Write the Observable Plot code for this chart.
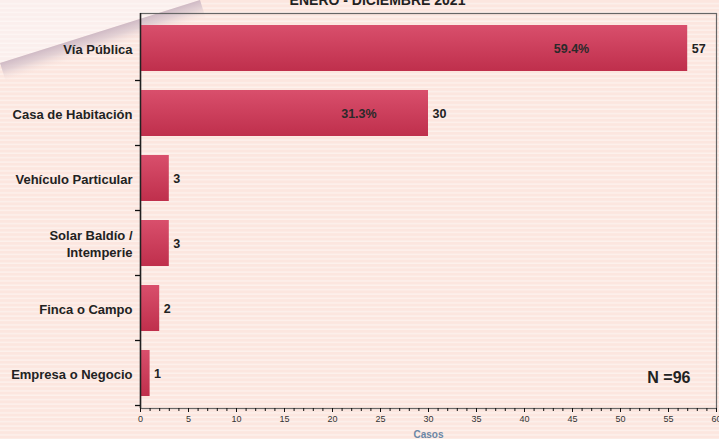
<!DOCTYPE html>
<html><head><meta charset="utf-8">
<script src="https://cdn.jsdelivr.net/npm/d3@7"></script>
<script src="https://cdn.jsdelivr.net/npm/@observablehq/plot@0.6"></script>
<style>
html,body{margin:0;padding:0;background:#fce7e0;overflow:hidden;}
svg{display:block;font-family:"Liberation Sans",Arial,sans-serif;}
</style></head>
<body><div id="chart"></div>
<script>
const categories = ["Vía Pública","Casa de Habitación","Vehículo Particular","Solar Baldío /\nIntemperie","Finca o Campo","Empresa o Negocio"];
const casos = [57, 30, 3, 3, 2, 1];
const porcentajes = [59.4, 31.3, null, null, null, null];
const xTicks = d3.range(0, 61, 5);
const xMinorTicks = d3.range(0, 61, 1);
const titulo = "ENERO - DICIEMBRE 2021";
const totalLabel = "N =96";
const xLabel = "Casos";

const data = categories.map((c, i) => ({cat: c, value: casos[i], pct: porcentajes[i]}));

const defs = () => {
  const g = d3.create("svg:g");
  const d = g.append("defs");
  const stripes = d.append("pattern").attr("id","stripes").attr("patternUnits","userSpaceOnUse").attr("width",10).attr("height",4.4);
  stripes.append("rect").attr("width",10).attr("height",4.4).attr("fill","#fce6df");
  stripes.append("rect").attr("y",2.9).attr("width",10).attr("height",1.5).attr("fill","#fdf1ec");
  const stripes2 = d.append("pattern").attr("id","stripes2").attr("patternUnits","userSpaceOnUse").attr("width",10).attr("height",4.4);
  stripes2.append("rect").attr("width",10).attr("height",4.4).attr("fill","#fbefed");
  stripes2.append("rect").attr("y",2.9).attr("width",10).attr("height",1.5).attr("fill","#fdf6f4");
  const bar = d.append("linearGradient").attr("id","barGrad").attr("x1",0).attr("y1",0).attr("x2",0).attr("y2",1);
  bar.append("stop").attr("offset","0%").attr("stop-color","#d94f6c");
  bar.append("stop").attr("offset","100%").attr("stop-color","#bf2f4c");
  const sh = d.append("linearGradient").attr("id","shadow").attr("gradientUnits","userSpaceOnUse")
    .attr("x1",100).attr("y1",31.5).attr("x2",106).attr("y2",50.6);
  sh.append("stop").attr("offset","0%").attr("stop-color","#cfbac5").attr("stop-opacity",1);
  sh.append("stop").attr("offset","40%").attr("stop-color","#dccad0").attr("stop-opacity",0.8);
  sh.append("stop").attr("offset","100%").attr("stop-color","#fce6df").attr("stop-opacity",0);
  g.append("rect").attr("width",719).attr("height",439).attr("fill","url(#stripes)");
  g.append("path").attr("d","M0,0H200L0,63Z").attr("fill","url(#stripes2)");
  g.append("path").attr("d","M0,63L200,0L206,19.1L6,82.1Z").attr("fill","url(#shadow)");
  return g.node();
};

const plot = Plot.plot({
  width: 719,
  height: 439,
  marginLeft: 140,
  marginRight: 3,
  marginTop: 13,
  marginBottom: 31,
  style: {background: "transparent", fontFamily: "Liberation Sans, Arial, sans-serif"},
  x: {domain: [0, 60]},
  y: {domain: categories, paddingInner: 0.29, paddingOuter: 0.14, align: 0.5},
  marks: [
    defs,
    Plot.frame({stroke: "#666", strokeWidth: 1.2}),
    Plot.barX(data, {x: "value", y: "cat", fill: "url(#barGrad)"}),
    Plot.text(data.filter(d => d.pct != null), {x: d => d.value * 0.82, y: "cat", text: d => d.pct.toFixed(1) + "%", textAnchor: "end", fontWeight: "bold", fontSize: 12.5, fill: "#2a2a2a"}),
    Plot.text(data, {x: "value", y: "cat", text: d => String(d.value), textAnchor: "start", dx: 4, fontWeight: "bold", fontSize: 12.5, fill: "#222"}),
    Plot.axisX({ticks: xTicks, tickSize: 4, tickPadding: 3, fontSize: 9, fill: "#333", stroke: "#111", label: null}),
    Plot.axisX({ticks: xMinorTicks, tickSize: 3, tickFormat: () => "", stroke: "#111", label: null}),
    Plot.ruleY([0], {frameAnchor: "bottom", stroke: "#111", strokeWidth: 1.5}),
    Plot.ruleX([0], {stroke: "#222", strokeWidth: 1.5}),
    Plot.axisY({tickSize: 0, tickPadding: 8, fontSize: 13, fontWeight: "bold", fill: "#222", label: null, lineHeight: 1.3}),
    Plot.text([xLabel], {frameAnchor: "bottom", dy: 29, lineAnchor: "bottom", fontSize: 10, fontWeight: "bold", fill: "#6b87a6"}),
    Plot.text([titulo], {frameAnchor: "top", dy: -9, dx: -51, lineAnchor: "bottom", fontSize: 14, fontWeight: "bold", fill: "#222"}),
    Plot.text([totalLabel], {frameAnchor: "bottom-right", dx: -26, dy: -26, textAnchor: "end", lineAnchor: "bottom", fontSize: 16, fontWeight: "bold", fill: "#222"})
  ]
});

// band boundary ticks on the y axis, placed with the plot's own y scale
const ys = plot.scale("y");
const half = (ys.step - ys.bandwidth) / 2;
const svg = d3.select(plot);
const tg = svg.append("g").attr("stroke", "#111").attr("stroke-width", 1.3);
const bounds = categories.map(c => ys.apply(c) - half).concat([ys.apply(categories[categories.length-1]) + ys.bandwidth + half]);
bounds.slice(1).forEach(b => tg.append("line").attr("x1", 135).attr("x2", 140).attr("y1", b).attr("y2", b));

document.getElementById("chart").appendChild(plot);
</script></body></html>
